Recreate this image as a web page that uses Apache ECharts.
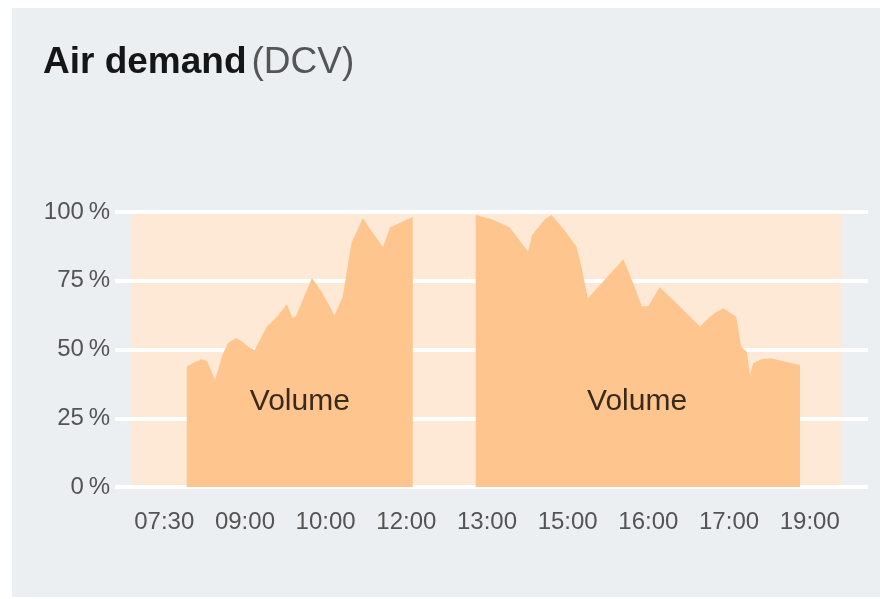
<!DOCTYPE html>
<html>
<head>
<meta charset="utf-8">
<title>Air demand (DCV)</title>
<script src="https://cdn.jsdelivr.net/npm/echarts@6/dist/echarts.min.js"></script>
<style>
  html, body { margin: 0; padding: 0; background: #fff; }
  #panel { position: absolute; left: 12px; top: 8px; width: 868px; height: 589px; background: #eceff1; }
  #chart { position: absolute; left: 0; top: 0; width: 880px; height: 599px; }
</style>
</head>
<body>
<div id="panel"></div>
<div id="chart"></div>
<script>
// x is an index scale: tick label k sits at 4 + 10 * k
const xTicks = [4, 14, 24, 34, 44, 54, 64, 74, 84]
const xLabels = ['07:30', '09:00', '10:00', '12:00', '13:00', '15:00', '16:00', '17:00', '19:00']
const yTicks = [0, 25, 50, 75, 100]

// morning block, [x, %]
const morning = [
  [6.78, 0], [6.78, 43.7], [7.8, 45.5], [8.6, 46.5], [9.3, 45.8], [9.7, 43], [10.3, 39],
  [11.2, 48], [11.9, 52.4], [12.9, 54.2], [13.6, 53], [14.4, 51], [15.2, 49.8], [16.7, 58.3],
  [18, 62], [19.2, 66.5], [19.9, 61.5], [20.3, 62], [22.3, 76], [23.5, 71], [25.1, 62.5],
  [26.1, 69], [27.2, 88.7], [28.6, 97.8], [29.7, 93], [31.1, 87.3], [32, 94.5], [34.8, 98.2],
  [34.8, 0]
]
// afternoon block
const afternoon = [
  [42.6, 0], [42.6, 98.9], [44.5, 97.5], [46.8, 94.5], [48.3, 88.6], [49.1, 85.6], [49.6, 91.6],
  [51.2, 97.5], [52, 98.9], [53.4, 94.1], [55.1, 87.4], [55.7, 80.1], [56.5, 68.6], [58, 73.5],
  [60.9, 82.8], [62.2, 73.5], [63.2, 65.6], [64, 65.8], [65.4, 72.6], [67.5, 66.8], [70.4, 58.3],
  [71.4, 61.3], [72.3, 63.5], [73.3, 65], [74.9, 61.9], [75.5, 51], [76.2, 49.2], [76.6, 40.7],
  [77, 45], [78, 46.5], [79.1, 46.8], [82.8, 44.4], [82.8, 0]
]

const font = '"Liberation Sans", Arial, Helvetica, sans-serif'
const areaColor = '#fec68e'
const bandColor = '#fde9d5'
const labelColor = '#545454'

const chart = echarts.init(document.getElementById('chart'), null, { renderer: 'canvas' })

function volumeLabel(x) {
  return {
    silent: true,
    symbol: 'rect',
    symbolSize: 1,
    itemStyle: { color: 'rgba(0,0,0,0)' },
    label: { show: true, position: 'inside', formatter: 'Volume', fontFamily: font, fontSize: 30, color: '#3b2a1c' },
    data: [{ coord: [x, 31] }]
  }
}

function areaSeries(name, data, labelX) {
  return {
    name: name,
    type: 'line',
    data: data,
    symbol: 'none',
    silent: true,
    lineStyle: { width: 0 },
    areaStyle: { color: areaColor, opacity: 1 },
    markPoint: volumeLabel(labelX),
    z: 3
  }
}

chart.setOption({
  backgroundColor: 'transparent',
  animation: false,
  title: {
    left: 38,
    top: 39,
    text: '{b|Air demand} {r|(DCV)}',
    textStyle: {
      fontWeight: 'normal',
      rich: {
        b: { fontFamily: font, fontSize: 37, fontWeight: 'bold', color: '#161616' },
        r: { fontFamily: font, fontSize: 37, fontWeight: 'normal', color: '#555' }
      }
    }
  },
  grid: { left: 132, right: 38, top: 212, bottom: 112, show: true, backgroundColor: bandColor, borderWidth: 0 },
  xAxis: {
    type: 'value',
    min: 0,
    max: 88,
    axisLine: { show: false },
    axisTick: { show: false },
    splitLine: { show: false },
    axisLabel: {
      customValues: xTicks,
      formatter: v => xLabels[xTicks.indexOf(v)] || '',
      fontFamily: font, fontSize: 24, color: labelColor, margin: 23
    }
  },
  yAxis: [
    {
      type: 'value',
      min: yTicks[0],
      max: yTicks[yTicks.length - 1],
      interval: 25,
      axisLine: { show: false },
      axisTick: { show: true, length: 17, lineStyle: { color: '#fff', width: 4 } },
      splitLine: { lineStyle: { color: '#fff', width: 4 } },
      axisLabel: { formatter: '{value}\u2009%', fontFamily: font, fontSize: 24, color: labelColor, margin: 22 }
    },
    {
      type: 'value',
      position: 'right',
      min: yTicks[0],
      max: yTicks[yTicks.length - 1],
      interval: 25,
      axisLine: { show: false },
      axisTick: { show: true, length: 26, lineStyle: { color: '#fff', width: 4 } },
      splitLine: { show: false },
      axisLabel: { show: false }
    }
  ],
  series: [
    areaSeries('Morning', morning, 20.8),
    areaSeries('Afternoon', afternoon, 62.6)
  ]
})
</script>
</body>
</html>
